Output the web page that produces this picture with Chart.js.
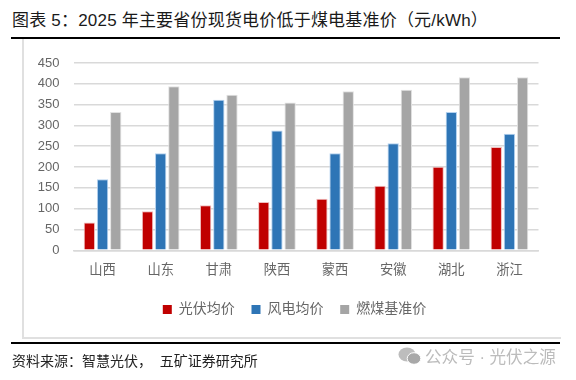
<!DOCTYPE html>
<html>
<head>
<meta charset="utf-8">
<script src="https://cdn.jsdelivr.net/npm/chart.js@4"></script>
<style>
  html, body { margin: 0; padding: 0; background: #fff; }
  body { width: 576px; height: 380px; position: relative; overflow: hidden; font-family: "Liberation Sans", "Noto Sans CJK SC", sans-serif; }
  #title { position: absolute; left: 12px; top: 10px; font-size: 17px; letter-spacing: 0.2px; line-height: 22px; color: #1a1a1a; white-space: nowrap; }
  .rule { position: absolute; left: 11px; width: 549px; height: 2px; background: #000; }
  #frame { position: absolute; left: 22px; top: 39px; width: 537px; height: 298px; border-left: 2px solid #e0e0e0; border-bottom: 2px solid #e0e0e0; }
  #wrap { position: absolute; left: 0; top: 0; width: 576px; height: 380px; }
  #source { position: absolute; left: 12px; top: 352px; font-size: 14px; line-height: 18px; color: #222; white-space: pre; }
  #mark { position: absolute; left: 425px; top: 349px; font-size: 16.6px; line-height: 18px; color: #bcbcbc; white-space: nowrap; }
  #icon { position: absolute; left: 398px; top: 347px; }
</style>
</head>
<body>
<div id="title">图表 5：2025 年主要省份现货电价低于煤电基准价（元/kWh）</div>
<div class="rule" style="top:37px"></div>
<div id="frame"></div>
<div id="wrap"><canvas id="barChart" width="576" height="380"></canvas></div>
<div class="rule" style="top:342px"></div>
<div id="source">资料来源：智慧光伏，  五矿证券研究所</div>
<svg id="icon" width="23" height="18" viewBox="0 0 23 18">
  <ellipse cx="9" cy="7.5" rx="8.5" ry="7" fill="#bdbdbd"/>
  <ellipse cx="16" cy="11.5" rx="6.8" ry="5.8" fill="#a8a8a8" stroke="#fff"/>
</svg>
<div id="mark">公众号 · 光伏之源</div>
<script>
  'use strict';
  var categories = ["山西", "山东", "甘肃", "陕西", "蒙西", "安徽", "湖北", "浙江"];
  var solarPrice = [67, 94, 108, 116, 124, 155, 201, 248];
  var windPrice = [171, 233, 362, 288, 233, 257, 332, 280];
  var coalPrice = [332, 394, 374, 355, 382, 386, 416, 416];
  var yTicks = [0, 50, 100, 150, 200, 250, 300, 350, 400, 450];

  var textFont = '"Liberation Sans", "Noto Sans CJK SC", sans-serif';

  // the legend sits right of the plot centre in the original
  var legendShift = {
    id: 'legendShift',
    afterLayout: function(chart) {
      chart.legend.left += 13;
      chart.legend.right += 13;
    }
  };

  var barData = {
    labels: categories,
    datasets: [{
      label: '光伏均价',
      data: solarPrice,
      backgroundColor: '#c00000',
      borderColor: 'rgba(240, 190, 190, 1)',
      borderWidth: 1
    }, {
      label: '风电均价',
      data: windPrice,
      backgroundColor: '#2e75b6',
      borderColor: 'rgba(180, 210, 240, 1)',
      borderWidth: 1
    }, {
      label: '燃煤基准价',
      data: coalPrice,
      backgroundColor: '#a5a5a5',
      borderColor: 'rgba(225, 225, 225, 1)',
      borderWidth: 1
    }]
  };

  var barOptions = {
    responsive: false,
    animation: false,
    layout: { padding: { left: 24.5, right: 37.5, top: 63, bottom: 53.5 } },
    datasets: { bar: { categoryPercentage: 0.68, barPercentage: 0.86 } },
    plugins: {
      title: { display: false },
      tooltip: { enabled: false },
      legend: {
        position: 'bottom',
        labels: {
          boxWidth: 9,
          boxHeight: 9,
          color: '#666666',
          font: { family: textFont, size: 14 },
          padding: 16.7,
          generateLabels: function(chart) {
            return chart.data.datasets.map(function(ds, i) {
              return { text: ds.label, fillStyle: ds.backgroundColor, strokeStyle: ds.backgroundColor, lineWidth: 0, datasetIndex: i, fontColor: '#666666' };
            });
          }
        }
      }
    },
    scales: {
      x: {
        afterFit: function(axis) { axis.height = 35.5; },
        grid: { display: false, drawTicks: false },
        border: { color: '#d9d9d9', width: 1.5 },
        ticks: { color: '#666666', font: { family: textFont, size: 13.3 }, padding: 12, maxRotation: 0 }
      },
      y: {
        min: 0,
        max: 450,
        afterBuildTicks: function(axis) {
          axis.ticks = yTicks.map(function(v) { return { value: v }; });
        },
        afterFit: function(axis) { axis.width = 49; },
        grid: { color: '#d9d9d9', lineWidth: 1.5, drawTicks: false },
        border: { display: false },
        ticks: { color: '#666666', font: { family: textFont, size: 13 }, padding: 14 }
      }
    }
  };

  var barChartCanvas = document.getElementById("barChart").getContext("2d");
  var barChart = new Chart(barChartCanvas, {
    type: 'bar',
    data: barData,
    options: barOptions,
    plugins: [legendShift]
  });
</script>
</body>
</html>
